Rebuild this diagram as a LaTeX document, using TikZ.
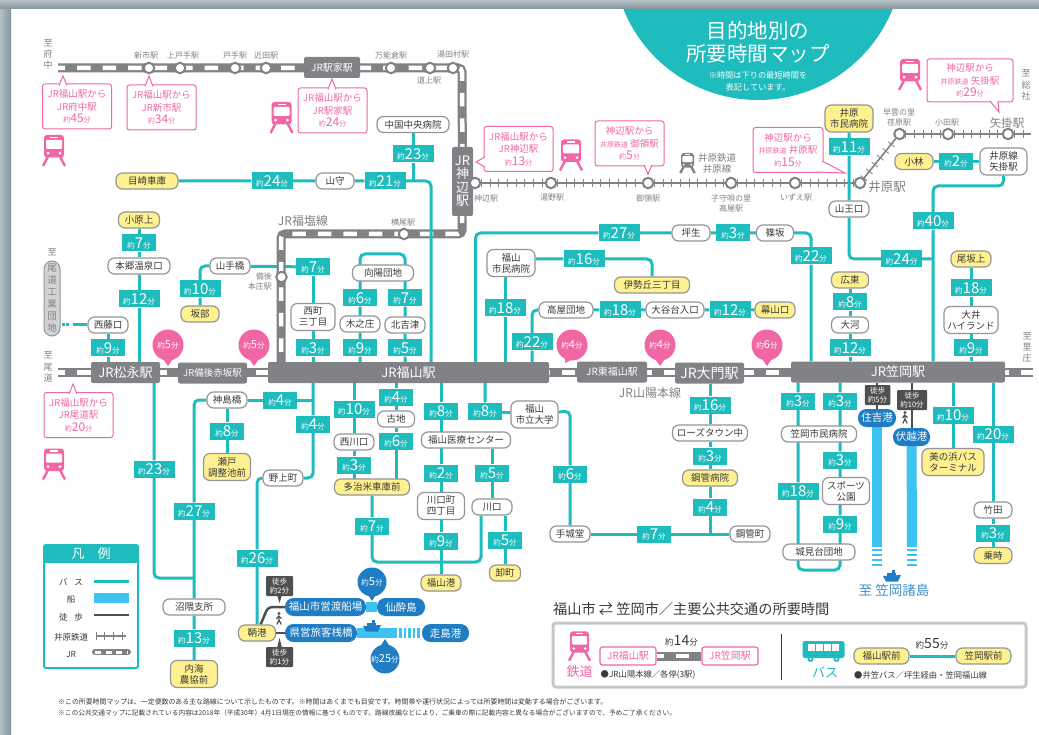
\documentclass[tikz,border=0pt]{standalone}
\usepackage{fontspec}
\setmainfont{Noto Sans CJK JP}
\usetikzlibrary{backgrounds,decorations.markings}
\definecolor{busteal}{HTML}{1FBCBD}
\definecolor{railgray}{HTML}{808285}
\definecolor{pinkmark}{HTML}{F167A6}
\definecolor{endyellow}{HTML}{FFF18F}
\definecolor{stopedge}{HTML}{939598}
\definecolor{inkdark}{HTML}{3A3A3A}
\definecolor{shipblue}{HTML}{3DC3F2}
\definecolor{portblue}{HTML}{1F7DC3}
\definecolor{walkdark}{HTML}{4F4F51}
\definecolor{padgray}{HTML}{D1D3D4}
\definecolor{edgelight}{HTML}{B4C0C4}
\definecolor{edgedeep}{HTML}{82959C}
\newcommand{\fs}[1]{\fontsize{#1}{#1}\selectfont}
\newcommand{\mins}[1]{{\fs{7.5}約}{\fs{15}#1}{\fs{7.5}分}}
\newcommand{\kk}[1]{{\fs{7}約}{\fs{12}#1}{\fs{7}分}}
\newcommand{\tagnode}[4]{\ifnum#4<10 \def\tagwd{34}\else\def\tagwd{41}\fi
    \node[timetag,minimum width=\tagwd] (#1) at (#2,#3) {\mins{#4}};}
\tikzset{
    busline/.style={draw=busteal,line width=3,rounded corners=5},
    stopbox/.style={draw=stopedge,fill=white,line width=1.2,rounded corners=6.5,inner sep=0,align=center,text=inkdark,font=\fontsize{9.5}{11}\selectfont},
    endbox/.style={stopbox,fill=endyellow},
    timetag/.style={fill=busteal,text=white,minimum height=17,inner sep=0},
    jrline/.style={draw=railgray,line width=9,rounded corners=4,postaction={draw=white,line width=4.5,dash pattern=on 13.5 off 12,dash phase=6.5}},
    jrbox/.style={fill=railgray,text=white,rounded corners=2,inner sep=0,minimum height=21,align=center},
    jrstop/.style={circle,draw=railgray,fill=white,line width=2,minimum size=10.5,inner sep=0},
    linelabel/.style={text=railgray,align=center,inner sep=0,font=\fontsize{8}{10}\selectfont},
    callout/.style={draw=pinkmark,fill=white,line width=1,rounded corners=2.5,minimum width=69,minimum height=45,inner sep=0,align=center,text=pinkmark,font=\fontsize{9.5}{12.5}\selectfont},
    calltail/.style={draw=pinkmark,fill=white,line width=1},
    dropnode/.style={circle,fill=pinkmark,text=white,minimum size=31,inner sep=0},
    portbox/.style={fill=portblue,text=white,rounded corners=8.5,minimum height=18,inner sep=0,font=\fontsize{10.5}{11}\selectfont},
    walktag/.style={fill=walkdark,text=white,rounded corners=1,minimum width=27,minimum height=20,inner sep=0,align=center,font=\fontsize{7.5}{9}\selectfont},
    walkline/.style={draw=walkdark,line width=2.5,rounded corners=4},
    shipline/.style={draw=shipblue,line width=10},
    ibaratrack/.style={draw=railgray,line width=1.6,postaction={decorate,decoration={markings,mark=between positions 0 and 1 step 8.7pt with {\draw[railgray,line width=.8] (0,-4)--(0,4);}}}},
    pinkframe/.style={draw=pinkmark,fill=white,line width=1.2,rounded corners=2.5,minimum width=56,minimum height=18,inner sep=0,text=pinkmark,font=\fontsize{10}{11}\selectfont},
    pics/trainicon/.style={code={
        \fill[rounded corners=3] (-10,-15.5) rectangle (10,7);
        \fill[white] (-4,-13.8) rectangle (4,-12.3);
        \fill[white,rounded corners=1] (-8,-10.5) rectangle (8,-1.5);
        \fill[white] (-6,2.7) circle (1.5) (6,2.7) circle (1.5);
        \draw[line width=2.4] (-6,6)--(-11,15.5) (6,6)--(11,15.5);
    }},
    pics/shipicon/.style={code={
        \fill (-9,0)--(9,-1)--(6,5.5)--(-6,5.5)--cycle;
        \fill (-5,0) rectangle (4,-3);
        \fill (0,-3) rectangle (3,-6);
    }},
    pics/walkicon/.style={code={
        \fill (0,-5.5) circle (1.6);
        \draw[line width=1.2] (-2.5,0)--(-.3,-3)--(2.5,-.5) (-.3,-3)--(0,1)--(-2.2,5.5) (0,1)--(2.2,5.5);
    }},
}
\begin{document}
\begin{tikzpicture}[x=1pt,y=-1pt]
    \useasboundingbox (0,0) rectangle (1039,735);
    \begin{scope}[on background layer]
        \fill[white] (0,0) rectangle (1039,735);
        \fill[busteal] (758,-45) circle (145);
        \shade[left color=edgelight,right color=edgedeep] (0,0) rectangle (11,735);
        \shade[top color=edgelight,bottom color=edgedeep] (0,0) rectangle (1039,9);
    \end{scope}

    \node[text=white,font=\fs{20.5}] (titleA) at (758,31) {目的地別の};
    \node[text=white,font=\fs{20.5}] (titleB) at (758,54) {所要時間マップ};
    \node[text=white,align=center,font=\fontsize{8.2}{12}\selectfont] (titleC) at (758,81) {※時間は下りの最短時間を\\表記しています。};

    \coordinate (cTopW) at (58,68);
    \coordinate (cTopE) at (462,68);
    \coordinate (cFukuA) at (462,234);
    \coordinate (cFukuB) at (281,234);
    \coordinate (cMainW) at (58,372.5);
    \coordinate (cMainE) at (1033,372.5);
    \coordinate (cIbaraE) at (1031,134);
    \coordinate (cChu) at (431,181);
    \coordinate (cYamate) at (200,266);
    \coordinate (cKoyoA) at (360,254);
    \coordinate (cKoyoB) at (405,254);
    \coordinate (cDotA) at (73,325);
    \coordinate (cDotB) at (62,325);
    \coordinate (cNumaA) at (154,578);
    \coordinate (cNumaB) at (194,578);
    \coordinate (cKamiL) at (194,400);
    \coordinate (cNogA) at (313,478);
    \coordinate (cNogB) at (257,478);
    \coordinate (cHajiA) at (372,562);
    \coordinate (cHajiB) at (481,562);
    \coordinate (cDai) at (570,411);
    \coordinate (cLoopA) at (798,570);
    \coordinate (cLoopB) at (840,570);
    \coordinate (cIbA) at (849,259);
    \coordinate (cYaA) at (933,186);
    \coordinate (cYaB) at (1003.5,186);
    \coordinate (cTsA) at (475.5,233);
    \coordinate (cTsB) at (811,233);
    \coordinate (cIse) at (652,259);
    \coordinate (cTakaA) at (532,310);
    \coordinate (cSumi) at (877,547);
    \coordinate (cFushi) at (912,547);
    \coordinate (cHashiri) at (397,633);
    \coordinate (cWalkA) at (268,607);

    \node[jrbox,minimum width=56,font=\fs{10}] (jrEkiya) at (332,67.5) {JR駅家駅};
    \node[jrbox,minimum width=21,minimum height=69,font=\fontsize{13}{13.5}\selectfont] (jrKanbe) at (462.5,181.5) {JR\\神\\辺\\駅};
    \node[jrbox,minimum width=69,font=\fs{13}] (jrMatsu) at (125.5,372.5) {JR松永駅};
    \node[jrbox,minimum width=69,font=\fs{9.5}] (jrAkasaka) at (212.5,373) {JR備後赤坂駅};
    \node[jrbox,minimum width=281,font=\fs{13}] (jrFuku) at (408.5,372.5) {JR福山駅};
    \node[jrbox,minimum width=70,font=\fs{10}] (jrHigashi) at (612,372) {JR東福山駅};
    \node[jrbox,minimum width=69,font=\fs{14}] (jrDaimon) at (709.5,373) {JR大門駅};
    \node[jrbox,minimum width=214,font=\fs{13}] (jrKasa) at (898,372) {JR笠岡駅};

    \foreach \nm/\xx/\yy in {shin/149/68,kamito/180/68,tode/235/68,chikata/266/68,mana/391/68,michi/430/68,yuda/453/68,yokoo/404/234,honjo/281.5/277,kannabe/475/183,yuno/551/183,goryo/648/183,komori/731/183,izue/795/183,ibara/860/183,ebara/899.5/134,oda/948/134,yakake/1008/134}{
        \node[jrstop] (\nm) at (\xx,\yy) {};
    }
    \foreach \xx/\yy/\txt [count=\n] in {146/55/新市駅,183/55/上戸手駅,235/55/戸手駅,266/55/近田駅,391/55/万能倉駅,453/54/湯田村駅,429/80/道上駅,403/222/横尾駅,486/198/神辺駅,552/198/湯野駅,648/198/御領駅,731/203/子守唄の里\\高屋駅,796/198/いずえ駅,899/118/早雲の里\\荏原駅,947/123/小田駅}{
        \node[linelabel] (lb\n) at (\xx,\yy) {\txt};
    }
    \node[linelabel,font=\fontsize{9.5}{11}\selectfont] (lbIbaraLine) at (717,163.5) {井原鉄道\\井原線};
    \node[linelabel,align=right,anchor=east] (lbHonjo) at (272,281) {備後\\本庄駅};
    \node[linelabel,font=\fs{12.5}] (lbIbara) at (887,187) {井原駅};
    \node[linelabel,font=\fs{11.5}] (lbYakake) at (1007,123) {矢掛駅};
    \node[linelabel,font=\fs{12}] (lbFukuen) at (303,221) {JR福塩線};
    \node[linelabel,font=\fs{12}] (lbSanyo) at (650,393) {JR山陽本線};
    \node[linelabel,font=\fontsize{9}{11}\selectfont] (toFuchu) at (48,54) {至\\府\\中};
    \node[linelabel,font=\fontsize{9}{11.5}\selectfont] (toOnomichi) at (48,367) {至\\尾\\道};
    \node[linelabel,font=\fontsize{9}{11}\selectfont] (toSato) at (1027,347) {至\\里\\庄};
    \node[linelabel,font=\fontsize{9}{11.5}\selectfont] (toSoja) at (1026,85) {至\\総\\社};
    \node[linelabel,font=\fs{9}] (toKogyo) at (52,252) {至};
    \node[draw=stopedge,fill=padgray,line width=1,rounded corners=8,minimum width=16,minimum height=75,inner sep=0,align=center,text=railgray,font=\fontsize{9.5}{12}\selectfont] (kogyo) at (52,298.5) {尾\\道\\工\\業\\団\\地};

    \node[callout] (callA) at (77,106.5) {JR福山駅から\\JR府中駅\\\kk{45}};
    \node[callout] (callB) at (161.5,107.5) {JR福山駅から\\JR新市駅\\\kk{34}};
    \node[callout] (callC) at (332.5,110.5) {JR福山駅から\\JR駅家駅\\\kk{24}};
    \node[callout] (callD) at (518.5,149) {JR福山駅から\\JR神辺駅\\\kk{13}};
    \node[callout] (callE) at (629.5,143.5) {神辺駅から\\{\fs{7}井原鉄道} 御領駅\\\kk{5}};
    \node[callout,minimum width=70] (callF) at (788,150) {神辺駅から\\{\fs{7}井原鉄道} 井原駅\\\kk{15}};
    \node[callout,minimum width=86,minimum height=43] (callG) at (970,80.5) {神辺駅から\\{\fs{7}井原鉄道} 矢掛駅\\\kk{29}};
    \node[callout] (callH) at (78.5,415) {JR福山駅から\\JR尾道駅\\\kk{20}};
    \draw[calltail] (59,85.5)--(63,76)--(67,85.5);
    \draw[calltail] (145,86.5)--(149,76)--(153,86.5);
    \draw[calltail] (328,89.5)--(332,79)--(336,89.5);
    \draw[calltail] (485,157)--(476,162)--(485,167);
    \draw[calltail] (644,165)--(648,174)--(652,165);
    \draw[calltail] (822,161)--(845,173)--(815,172);
    \draw[calltail] (990,101)--(999,112)--(998,101);
    \draw[calltail] (69,394)--(73,384)--(77,394);

    \pic[color=pinkmark] at (54,150.5) {trainicon};
    \pic[color=pinkmark] at (281.5,117.5) {trainicon};
    \pic[color=pinkmark] at (571,155) {trainicon};
    \pic[color=pinkmark] at (910,74.5) {trainicon};
    \pic[color=pinkmark] at (54,464) {trainicon};
    \pic[color=railgray,scale=.65] at (687.5,163) {trainicon};
    \pic[color=pinkmark,scale=.95] at (579.5,646) {trainicon};

    \foreach \nm/\xx/\yy/\ww/\hh/\txt in {chugoku/413/124.5/72/16/中国中央病院,mori/335/181/38/16/山守,hongo/139/266/62/16/本郷温泉口,saito/108/325/40/16/西藤口,yamate/230/266/40/16/山手橋,nishimachi/313/317/44/27/西町\\三丁目,koyo/383/273/61/16/向陽団地,kino/360/324/40/16/木之庄,kita/405/325/40/16/北吉津,kami/227/400/40/16/神島橋,numa/194/607/62/16/沼隈支所,nogami/283/478/40/16/野上町,nishikawa/354/442/40/16/西川口,koji/396/419/37/16/古地,iryo/466/440/89/16/福山医療センター,kawa4/441/506/47/27/川口町\\四丁目,kawaguchi/492/507/40/16/川口,daigaku/534.5/414.5/47/27/福山\\市立大学,teshiro/570/534/40/16/手城堂,kokanmachi/750/534/40/16/鋼管町,rose/710/433/75/16/ローズタウン中,sanno/849/209/40/16/山王口,yakagebox/1003.5/161.5/47/27/井原線\\矢掛駅,tsubo/691/233/38/16/坪生,sasa/775/233/37/16/篠坂,shiminb/511/263/48/27/福山\\市民病院,takaya/566/310/54/16/高屋団地,ootani/675/310/58/16/大谷台入口,okawa/850/325/37/16/大河,oi/971/320/54/27/大井\\ハイランド,kasahp/819/434/75/16/笠岡市民病院,sport/846/491/47/27/スポーツ\\公園,joken/819/552/72/16/城見台団地,take/993/510/38/16/竹田}{
        \node[stopbox,minimum width=\ww,minimum height=\hh] (\nm) at (\xx,\yy) {\txt};
    }
    \foreach \nm/\xx/\yy/\ww/\hh/\txt in {meza/147/181/62/16/目崎車庫,ohara/139/220/41/16/小原上,sakabe/200/314/38/16/坂部,seto/227/467/47/27/瀬戸\\調整池前,utsumi/194/674/47/27/内海\\農協前,tomo/257/633/37/16/鞆港,tajime/372/487/75/16/多治米車庫前,fukuko/441/583/40/16/福山港,oroshi/505/573/31/16/卸町,kobyo/710/478/55/16/鋼管病院,ibarah/849/118.5/48/27/井原\\市民病院,kobayashi/914/161.5/38/16/小林,isegaoka/652/285/75/16/伊勢丘三丁目,makuyama/775/310/40/16/幕山口,hiro/850/280/37/16/広東,osaka/971/259/40/16/尾坂上,mihama/953/462/62/27/美の浜バス\\ターミナル,nori/993/555.5/38/16/乗時,padFuku/881.5/656/55/16/福山駅前,padKasa/983.5/656/55/16/笠岡駅前}{
        \node[endbox,minimum width=\ww,minimum height=\hh] (\nm) at (\xx,\yy) {\txt};
    }
    \foreach \nm/\xx/\yy/\val in {tChugoku/413/154/23,tMeza/272/181/24,tMori/385/181/21,tOhara/139/243/7,tHongo/139/299/12,tSaito/108/348/9,tYamate/200/289/10,tNishimachi/313/267/7,tSancho/313/348/3,tKoyoL/360/298/6,tKoyoR/405/298/7,tKinoL/360/348/9,tKitaR/405/348/5,tMatsu/154/469/23,tKamiR/280/400/4,tNogami/313/424/4,tSeto/227/431/8,tNuma/194/511/27,tUtsumi/194/638/13,tTomo/257/558/26,tNishi/354/409/10,tTaji/354/465/3,tKoji/396/397/4,tKojiB/396/441/6,tHaji/372/526/7,tIryo/441/411/8,tKawa/441/473/2,tYon/441/541/9,tDaigaku/485/411/8,tKawaguchi/492/473/5,tOroshi/505/540/5,tTeshiro/570/474/6,tKokan/654/534/7,tDaimon/710/405/16,tRose/710/456/3,tKobyo/710/507/4,tKasaL/798/401/3,tKasaR/840/401/3,tSport/840/460/3,tJoken/840/524/9,tShimin/798/491/18,tMihama/953/415/10,tTake/993/434.5/20,tNori/993/533/3,tIbaraH/849/147/11,tObi/901.5/259/24,tYakage/933/221/40,tKobaya/956/161.5/2,tTsubo/619/233/27,tSasa/733/233/3,tSasaS/811/256/22,tIse/584/259/16,tFukuS/505/308/18,tTakaya/620/310/18,tOotani/730/310/12,tTakaS/532/342/22,tHiro/850/302/8,tOkawa/850/348/12,tOsaka/971/288/18,tOi/971/348/9}{
        \tagnode{\nm}{\xx}{\yy}{\val}
    }

    \foreach \nm/\xx/\yy/\tipx/\tipy/\val in {dropA/168/345/168/366/5,dropB/254/345/254/366/5,dropC/572/345/565/363/4,dropD/660/345/660/366/4,dropE/767/345/767/366/6}{
        \fill[pinkmark] (\xx-7,\yy+11)--(\tipx,\tipy)--(\xx+7,\yy+11)--cycle;
        \node[dropnode] (\nm) at (\xx,\yy) {{\fs{7.5}約}{\fs{11}\val}{\fs{7.5}分}};
    }

    \node[portbox,minimum width=81] (tosen) at (325.5,607) {福山市営渡船場};
    \node[portbox,minimum width=48] (sensui) at (401,607) {仙酔島};
    \node[portbox,minimum width=72] (kenei) at (321,633) {県営旅客桟橋};
    \node[portbox,minimum width=47] (hashiri) at (445.5,633) {走島港};
    \node[portbox,minimum width=38] (sumiyoshi) at (877,418) {住吉港};
    \node[portbox,minimum width=37] (fushi) at (911.5,437) {伏越港};
    \fill[portblue] (365,590)--(372,601)--(379,590)--cycle;
    \fill[portblue] (378,650)--(385,639)--(392,650)--cycle;
    \node[dropnode,fill=portblue,minimum size=29] (dropF) at (372,582) {{\fs{7.5}約}{\fs{11}5}{\fs{7.5}分}};
    \node[dropnode,fill=portblue,minimum size=29] (dropG) at (385,659) {{\fs{7.5}約}{\fs{11}25}{\fs{7.5}分}};
    \pic[color=portblue] at (372,626) {shipicon};
    \pic[color=portblue] at (892,576) {shipicon};
    \node[text=portblue!85!white,font=\fs{13.5},inner sep=0] (lbIslands) at (894,590) {至 笠岡諸島};

    \node[walktag] (walkA) at (279.5,586) {徒歩\\約2分};
    \node[walktag] (walkB) at (279.5,657) {徒歩\\約1分};
    \node[walktag,minimum width=25.5] (walkC) at (877.5,395) {徒歩\\約5分};
    \node[walktag,minimum width=30] (walkD) at (912,400) {徒歩\\約10分};
    \fill[walkdark] (277,595)--(279.5,603)--(282,595)--cycle;
    \fill[walkdark] (277,648)--(279.5,638)--(282,648)--cycle;
    \pic[color=walkdark] at (279,619) {walkicon};
    \pic[color=walkdark] at (905,418) {walkicon};

    \draw[busteal,line width=2,rounded corners=2,fill=white] (44,545) rectangle (138,668);
    \fill[busteal,rounded corners=2] (44,545) rectangle (138,563);
    \node[text=white,font=\fs{13}] (legTitle) at (91,554) {凡　例};
    \foreach \yy/\txt/\nm in {582/バ\hspace{7pt}ス/legA,599/船/legB,617/徒\hspace{7pt}歩/legC,637/井原鉄道/legD,654/JR/legE}{
        \node[text=inkdark,inner sep=0,font=\fs{8.5}] (\nm) at (71,\yy) {\txt};
    }
    \coordinate (legBusA) at (94,581);
    \coordinate (legBusB) at (129,581);
    \coordinate (legShipA) at (94,598);
    \coordinate (legShipB) at (129,598);
    \coordinate (legWalkA) at (94,615);
    \coordinate (legWalkB) at (129,615);
    \coordinate (legIbaraA) at (96,636);
    \coordinate (legIbaraB) at (126,636);
    \coordinate (legJrA) at (95,652);
    \coordinate (legJrB) at (128,652);
    \draw[busline] (legBusA)--(legBusB);
    \draw[shipline] (legShipA)--(legShipB);
    \draw[walkline] (legWalkA)--(legWalkB);
    \draw[ibaratrack] (legIbaraA)--(legIbaraB);
    \draw[railgray,line width=6,line cap=round] (legJrA)--(legJrB);
    \draw[white,line width=3,dash pattern=on 6 off 4.5] (legJrA)--(legJrB);

    \node[anchor=west,inner sep=0,text=inkdark,font=\fs{14.2}] (padTitle) at (553,609) {福山市 ⇄ 笠岡市／主要公共交通の所要時間};
    \draw[padgray!80!stopedge,line width=3,rounded corners=3] (553,623) rectangle (1026,687);
    \node[pinkframe] (padJrA) at (628,656) {JR福山駅};
    \node[pinkframe] (padJrB) at (730,656) {JR笠岡駅};
    \node[inner sep=0,text=pinkmark,font=\fs{13}] (padRail) at (579.5,672) {鉄道};
    \node[inner sep=0,text=busteal,font=\fs{13}] (padBus) at (825,672) {バス};
    \node[inner sep=0,text=inkdark] (padRailTime) at (681.5,641) {{\fs{8.5}約}{\fs{14}14}{\fs{8.5}分}};
    \node[inner sep=0,text=inkdark] (padBusTime) at (932,644) {{\fs{8.5}約}{\fs{14}55}{\fs{8.5}分}};
    \node[anchor=west,inner sep=0,text=inkdark,font=\fs{8.3}] (padRailNote) at (600.5,675) {●JR山陽本線／各停(3駅)};
    \node[anchor=west,inner sep=0,text=inkdark,font=\fs{8.3}] (padBusNote) at (854,675) {●井笠バス／坪生経由・笠岡福山線};
    \coordinate (padDivA) at (781,634);
    \coordinate (padDivB) at (781,680);
    \draw[inkdark,line width=.9] (padDivA)--(padDivB);
    \begin{scope}[shift={(823.5,651)},color=busteal]
        \fill[rounded corners=2.5] (-21,-10) rectangle (21,7);
        \foreach \xx in {-15.5,-7.5,.5,8.5}{
            \fill[white] (\xx,-7.5) rectangle +(6.5,7);
        }
        \fill[busteal] (-13,8) circle (3) (13,8) circle (3);
        \fill[white] (-13,8) circle (1.1) (13,8) circle (1.1);
    \end{scope}

    \node[anchor=west,inner sep=0,text=inkdark,font=\fs{6.9}] (noteA) at (58,702) {※この所要時間マップは、一定便数のある主な路線について示したものです。※時間はあくまでも目安です。時間帯や運行状況によっては所要時間は変動する場合がございます。};
    \node[anchor=west,inner sep=0,text=inkdark,font=\fs{6.7}] (noteB) at (58,713) {※この公共交通マップに記載されている内容は2018年（平成30年）4月1日現在の情報に基づくものです。路線改編などにより、ご乗車の際に記載内容と異なる場合がございますので、予めご了承ください。};

    \begin{scope}[on background layer]
        \draw[busline] (sakabe)--(tYamate)--(cYamate)--(yamate)--(tNishimachi);
        \draw[jrline] (cTopW)--(cTopE)--(jrKanbe);
        \draw[jrline] (jrKanbe)--(cFukuA)--(cFukuB)--(jrFuku.north -| cFukuB);
        \draw[jrline] (cMainW)--(cMainE);
        \draw[jrline] (padJrA)--(padJrB);
        \foreach \a/\b in {kannabe/yuno,yuno/goryo,goryo/komori,komori/izue,izue/ibara,ibara/ebara,ebara/oda,oda/yakake,yakake/cIbaraE}{
            \draw[ibaratrack] (\a)--(\b);
        }
        \draw[busline] (meza)--(tMeza)--(mori)--(tMori)--(cChu)--(jrFuku.north -| cChu);
        \draw[busline] (chugoku)--(tChugoku)--(tChugoku |- cChu);
        \draw[busline] (ohara)--(tOhara)--(hongo)--(tHongo)--(jrMatsu.north -| tHongo);
        \draw[busline] (saito)--(tSaito)--(jrMatsu.north -| tSaito);
        \draw[busline] (saito)--(cDotA);
        \draw[busteal,line width=3,dash pattern=on 2.5 off 1.5 on 3 off 9] (cDotB)--(cDotA);
        \draw[busline] (tNishimachi)--(nishimachi)--(tSancho)--(jrFuku.north -| tSancho);
        \draw[busline] (jrFuku.north -| tKinoL)--(tKinoL)--(kino)--(tKoyoL)--(cKoyoA)--(cKoyoB)--(tKoyoR)--(kita)--(tKitaR)--(jrFuku.north -| tKitaR);
        \draw[busline] (jrMatsu.south -| tMatsu)--(tMatsu)--(cNumaA)--(cNumaB);
        \draw[busline] (kami)--(cKamiL)--(tNuma)--(numa)--(tUtsumi)--(utsumi);
        \draw[busline] (kami)--(tKamiR)--(tKamiR -| tNogami);
        \draw[busline] (jrFuku.south -| tNogami)--(tNogami)--(cNogA)--(nogami)--(cNogB)--(tTomo)--(tomo);
        \draw[busline] (kami)--(tSeto)--(seto);
        \draw[busline] (jrFuku.south -| tNishi)--(tNishi)--(nishikawa)--(tTaji)--(tTaji |- tajime);
        \draw[busline] (jrFuku.south -| tKoji)--(tKoji)--(koji)--(tKojiB)--(tKojiB |- tajime);
        \draw[busline] (tajime)--(tHaji)--(cHajiA)--(cHajiB)--(kawaguchi.south -| cHajiB);
        \draw[busline] (jrFuku.south -| tIryo)--(tIryo)--(tIryo |- iryo)--(tKawa)--(kawa4)--(tYon)--(fukuko);
        \draw[busline] (jrFuku.south -| tDaigaku)--(tDaigaku)--(daigaku)--(cDai)--(tTeshiro)--(teshiro);
        \draw[busline] (iryo.south -| tKawaguchi)--(tKawaguchi)--(kawaguchi);
        \draw[busline] (kawaguchi.south -| tOroshi)--(tOroshi)--(oroshi);
        \draw[busline] (teshiro)--(tKokan)--(kokanmachi);
        \draw[busline] (jrDaimon.south -| tDaimon)--(tDaimon)--(rose)--(tRose)--(kobyo)--(tKobyo)--(tKobyo |- kokanmachi);
        \draw[busline] (jrKasa.south -| tKasaL)--(tKasaL)--(tShimin)--(cLoopA)--(cLoopB)--(tJoken)--(tSport)--(tKasaR)--(jrKasa.south -| tKasaR);
        \draw[busline] (ibarah)--(tIbaraH)--(sanno)--(cIbA)--(tObi)--(tObi -| tYakage);
        \draw[busline] (jrKasa.north -| tYakage)--(tYakage)--(cYaA)--(cYaB)--(yakagebox);
        \draw[busline] (kobayashi)--(tKobaya)--(yakagebox);
        \draw[busline] (jrFuku.north -| cTsA)--(cTsA)--(tTsubo)--(tsubo)--(tSasa)--(sasa)--(cTsB)--(tSasaS)--(jrKasa.north -| tSasaS);
        \draw[busline] (jrFuku.north -| tFukuS)--(tFukuS)--(tFukuS |- shiminb.south);
        \draw[busline] (isegaoka)--(cIse)--(tIse)--(tIse -| shiminb.east);
        \draw[busline] (jrFuku.north -| tTakaS)--(tTakaS)--(cTakaA)--(takaya)--(tTakaya)--(ootani)--(tOotani)--(makuyama);
        \draw[busline] (hiro)--(tHiro)--(okawa)--(tOkawa)--(jrKasa.north -| tOkawa);
        \draw[busline] (osaka)--(tOsaka)--(oi)--(tOi)--(jrKasa.north -| tOi);
        \draw[busline] (jrKasa.south -| tMihama)--(tMihama)--(mihama);
        \draw[busline] (jrKasa.south -| tTake)--(tTake)--(take)--(tNori)--(nori);
        \draw[busline] (padFuku)--(padKasa);
        \draw[shipline] (sumiyoshi)--(cSumi);
        \draw[shipline] (fushi)--(cFushi);
        \foreach \xx in {872,907}{
            \foreach \yy in {548.5,553.5,558.5,563.5}{
                \fill[shipblue] (\xx,\yy) rectangle +(10,2.5);
            }
        }
        \draw[shipline] (tosen)--(sensui);
        \draw[shipline] (kenei)--(cHashiri);
        \foreach \xx in {399,403.5,408,412.5,417}{
            \fill[shipblue] (\xx,628) rectangle +(2.8,10);
        }
        \draw[walkline] (tosen)--(cWalkA)--(tomo);
        \draw[walkline] (tomo)--(kenei);
        \draw[walkline] (jrKasa.south -| sumiyoshi)--(sumiyoshi);
        \draw[walkline] (jrKasa.south -| walkD)--(fushi.north -| walkD);
    \end{scope}
\end{tikzpicture}
\end{document}
